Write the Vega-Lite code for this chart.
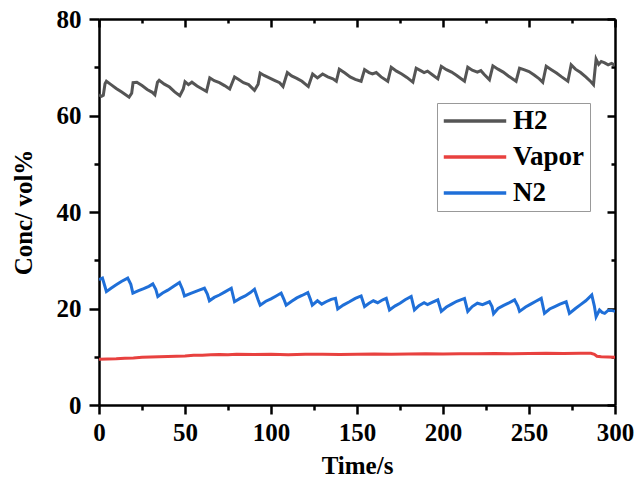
{
  "$schema": "https://vega.github.io/schema/vega-lite/v6.json",
  "width": 516,
  "height": 386,
  "autosize": {"type": "none"},
  "padding": {"left": 99, "top": 19, "right": 21, "bottom": 78},
  "background": "white",
  "config": {"view": {"stroke": null}, "font": "Liberation Serif"},
  "datasets": {
    "series": [
      {"s":"H2","t":0,"v":64.3},{"s":"H2","t":1.5,"v":64.0},{"s":"H2","t":2.5,"v":64.2},{"s":"H2","t":3.5,"v":66.6},{"s":"H2","t":4.3,"v":67.1},{"s":"H2","t":7,"v":66.4},{"s":"H2","t":10,"v":65.6},{"s":"H2","t":13,"v":64.9},{"s":"H2","t":15.5,"v":64.3},{"s":"H2","t":17.5,"v":63.8},{"s":"H2","t":19,"v":64.6},{"s":"H2","t":19.8,"v":66.8},{"s":"H2","t":22,"v":66.9},{"s":"H2","t":25,"v":66.2},{"s":"H2","t":28,"v":65.4},{"s":"H2","t":31,"v":64.8},{"s":"H2","t":32.5,"v":64.3},{"s":"H2","t":34,"v":66.9},{"s":"H2","t":35,"v":67.3},{"s":"H2","t":38,"v":66.5},{"s":"H2","t":41,"v":65.9},{"s":"H2","t":44,"v":64.9},{"s":"H2","t":47,"v":64.1},{"s":"H2","t":49,"v":65.5},{"s":"H2","t":50,"v":67.0},{"s":"H2","t":52,"v":66.4},{"s":"H2","t":54,"v":66.9},{"s":"H2","t":57,"v":66.1},{"s":"H2","t":60,"v":65.5},{"s":"H2","t":62.5,"v":65.0},{"s":"H2","t":64.4,"v":67.8},{"s":"H2","t":67,"v":67.2},{"s":"H2","t":70,"v":66.8},{"s":"H2","t":73,"v":66.2},{"s":"H2","t":76,"v":65.5},{"s":"H2","t":78.8,"v":68.0},{"s":"H2","t":81,"v":67.5},{"s":"H2","t":84,"v":66.8},{"s":"H2","t":87,"v":66.4},{"s":"H2","t":90.4,"v":65.2},{"s":"H2","t":92.5,"v":66.5},{"s":"H2","t":93.7,"v":68.8},{"s":"H2","t":96,"v":68.3},{"s":"H2","t":99,"v":67.8},{"s":"H2","t":102,"v":67.3},{"s":"H2","t":105,"v":66.8},{"s":"H2","t":107,"v":66.0},{"s":"H2","t":109.5,"v":68.9},{"s":"H2","t":112,"v":68.2},{"s":"H2","t":115,"v":67.7},{"s":"H2","t":118,"v":67.1},{"s":"H2","t":121.7,"v":66.0},{"s":"H2","t":124.2,"v":68.6},{"s":"H2","t":127,"v":67.8},{"s":"H2","t":130,"v":68.6},{"s":"H2","t":133,"v":68.0},{"s":"H2","t":136,"v":67.6},{"s":"H2","t":138,"v":67.1},{"s":"H2","t":139.7,"v":69.6},{"s":"H2","t":143,"v":68.8},{"s":"H2","t":146,"v":68.0},{"s":"H2","t":149,"v":67.5},{"s":"H2","t":152.4,"v":67.1},{"s":"H2","t":154.4,"v":69.5},{"s":"H2","t":157,"v":68.9},{"s":"H2","t":159,"v":68.6},{"s":"H2","t":161.2,"v":68.9},{"s":"H2","t":164,"v":68.0},{"s":"H2","t":167.9,"v":67.1},{"s":"H2","t":169.9,"v":70.0},{"s":"H2","t":173,"v":69.2},{"s":"H2","t":176,"v":68.6},{"s":"H2","t":179,"v":67.9},{"s":"H2","t":182.5,"v":66.9},{"s":"H2","t":184.4,"v":69.8},{"s":"H2","t":187,"v":69.3},{"s":"H2","t":189,"v":68.9},{"s":"H2","t":191,"v":69.2},{"s":"H2","t":194,"v":68.4},{"s":"H2","t":197,"v":67.6},{"s":"H2","t":199,"v":70.2},{"s":"H2","t":202,"v":69.5},{"s":"H2","t":205,"v":69.0},{"s":"H2","t":208,"v":68.3},{"s":"H2","t":212.5,"v":67.1},{"s":"H2","t":214.4,"v":70.0},{"s":"H2","t":217,"v":69.4},{"s":"H2","t":220,"v":69.0},{"s":"H2","t":222,"v":69.3},{"s":"H2","t":224,"v":68.5},{"s":"H2","t":227,"v":67.4},{"s":"H2","t":229,"v":70.3},{"s":"H2","t":232,"v":69.6},{"s":"H2","t":235,"v":69.0},{"s":"H2","t":238,"v":68.2},{"s":"H2","t":242.5,"v":67.1},{"s":"H2","t":244.5,"v":69.8},{"s":"H2","t":247,"v":69.5},{"s":"H2","t":250,"v":69.1},{"s":"H2","t":253,"v":68.4},{"s":"H2","t":256,"v":67.6},{"s":"H2","t":258,"v":66.9},{"s":"H2","t":260,"v":70.2},{"s":"H2","t":263,"v":69.5},{"s":"H2","t":266,"v":68.8},{"s":"H2","t":269,"v":68.0},{"s":"H2","t":272.6,"v":67.1},{"s":"H2","t":274.5,"v":70.5},{"s":"H2","t":277,"v":69.6},{"s":"H2","t":280,"v":68.9},{"s":"H2","t":283,"v":68.0},{"s":"H2","t":286,"v":67.0},{"s":"H2","t":287.5,"v":66.4},{"s":"H2","t":289,"v":71.7},{"s":"H2","t":290.5,"v":70.6},{"s":"H2","t":292,"v":71.2},{"s":"H2","t":294,"v":70.9},{"s":"H2","t":296,"v":70.5},{"s":"H2","t":298,"v":70.8},{"s":"H2","t":300,"v":70.4},
      {"s":"Vapor","t":0,"v":9.5},{"s":"Vapor","t":5,"v":9.55},{"s":"Vapor","t":10,"v":9.6},{"s":"Vapor","t":15,"v":9.7},{"s":"Vapor","t":20,"v":9.75},{"s":"Vapor","t":25,"v":9.9},{"s":"Vapor","t":30,"v":9.95},{"s":"Vapor","t":35,"v":10.0},{"s":"Vapor","t":40,"v":10.05},{"s":"Vapor","t":45,"v":10.1},{"s":"Vapor","t":50,"v":10.15},{"s":"Vapor","t":55,"v":10.3},{"s":"Vapor","t":60,"v":10.3},{"s":"Vapor","t":65,"v":10.4},{"s":"Vapor","t":70,"v":10.45},{"s":"Vapor","t":75,"v":10.4},{"s":"Vapor","t":80,"v":10.5},{"s":"Vapor","t":90,"v":10.45},{"s":"Vapor","t":100,"v":10.5},{"s":"Vapor","t":110,"v":10.4},{"s":"Vapor","t":120,"v":10.5},{"s":"Vapor","t":130,"v":10.5},{"s":"Vapor","t":140,"v":10.45},{"s":"Vapor","t":150,"v":10.5},{"s":"Vapor","t":160,"v":10.55},{"s":"Vapor","t":170,"v":10.5},{"s":"Vapor","t":180,"v":10.55},{"s":"Vapor","t":190,"v":10.6},{"s":"Vapor","t":200,"v":10.55},{"s":"Vapor","t":210,"v":10.6},{"s":"Vapor","t":220,"v":10.6},{"s":"Vapor","t":230,"v":10.65},{"s":"Vapor","t":240,"v":10.6},{"s":"Vapor","t":250,"v":10.65},{"s":"Vapor","t":260,"v":10.7},{"s":"Vapor","t":270,"v":10.65},{"s":"Vapor","t":280,"v":10.7},{"s":"Vapor","t":286,"v":10.7},{"s":"Vapor","t":288,"v":10.5},{"s":"Vapor","t":289.5,"v":10.1},{"s":"Vapor","t":292,"v":10.0},{"s":"Vapor","t":296,"v":9.95},{"s":"Vapor","t":300,"v":9.9},
      {"s":"N2","t":0,"v":26.0},{"s":"N2","t":2,"v":26.3},{"s":"N2","t":3.5,"v":24.5},{"s":"N2","t":4.3,"v":23.5},{"s":"N2","t":7,"v":24.2},{"s":"N2","t":10,"v":24.9},{"s":"N2","t":13,"v":25.6},{"s":"N2","t":16.7,"v":26.3},{"s":"N2","t":18.5,"v":25.0},{"s":"N2","t":19.7,"v":23.2},{"s":"N2","t":23,"v":23.7},{"s":"N2","t":26,"v":24.1},{"s":"N2","t":29,"v":24.6},{"s":"N2","t":31.3,"v":25.1},{"s":"N2","t":33,"v":24.0},{"s":"N2","t":34.2,"v":22.5},{"s":"N2","t":37,"v":23.2},{"s":"N2","t":40,"v":23.8},{"s":"N2","t":43,"v":24.5},{"s":"N2","t":46.8,"v":25.4},{"s":"N2","t":48.5,"v":24.0},{"s":"N2","t":49.7,"v":22.6},{"s":"N2","t":53,"v":23.1},{"s":"N2","t":56,"v":23.5},{"s":"N2","t":59,"v":23.9},{"s":"N2","t":61.3,"v":24.2},{"s":"N2","t":63,"v":23.0},{"s":"N2","t":64.2,"v":21.6},{"s":"N2","t":67,"v":22.3},{"s":"N2","t":70,"v":22.8},{"s":"N2","t":73,"v":23.4},{"s":"N2","t":76.9,"v":24.2},{"s":"N2","t":78.8,"v":21.4},{"s":"N2","t":82,"v":22.1},{"s":"N2","t":85,"v":22.6},{"s":"N2","t":88,"v":23.3},{"s":"N2","t":90.4,"v":24.0},{"s":"N2","t":92.5,"v":21.8},{"s":"N2","t":93.7,"v":20.7},{"s":"N2","t":97,"v":21.5},{"s":"N2","t":100,"v":22.0},{"s":"N2","t":103,"v":22.6},{"s":"N2","t":105.9,"v":23.2},{"s":"N2","t":107.5,"v":21.9},{"s":"N2","t":108.8,"v":20.7},{"s":"N2","t":112,"v":21.5},{"s":"N2","t":115,"v":22.2},{"s":"N2","t":118,"v":22.7},{"s":"N2","t":121.4,"v":23.3},{"s":"N2","t":122.8,"v":22.0},{"s":"N2","t":124,"v":20.7},{"s":"N2","t":127,"v":21.6},{"s":"N2","t":129.5,"v":20.9},{"s":"N2","t":132,"v":21.4},{"s":"N2","t":135,"v":21.9},{"s":"N2","t":137.5,"v":22.1},{"s":"N2","t":138.8,"v":19.9},{"s":"N2","t":142,"v":20.7},{"s":"N2","t":145.6,"v":21.4},{"s":"N2","t":149,"v":22.1},{"s":"N2","t":152.4,"v":22.6},{"s":"N2","t":153.5,"v":21.4},{"s":"N2","t":154.4,"v":20.4},{"s":"N2","t":157,"v":21.1},{"s":"N2","t":159.5,"v":21.6},{"s":"N2","t":162,"v":21.2},{"s":"N2","t":165,"v":21.8},{"s":"N2","t":167,"v":22.1},{"s":"N2","t":168.9,"v":19.7},{"s":"N2","t":172,"v":20.5},{"s":"N2","t":175,"v":21.1},{"s":"N2","t":178,"v":21.8},{"s":"N2","t":181.5,"v":22.5},{"s":"N2","t":183.4,"v":19.7},{"s":"N2","t":186,"v":20.6},{"s":"N2","t":189,"v":21.2},{"s":"N2","t":191,"v":20.8},{"s":"N2","t":194,"v":21.3},{"s":"N2","t":197,"v":21.8},{"s":"N2","t":199,"v":19.4},{"s":"N2","t":202,"v":20.3},{"s":"N2","t":205,"v":20.9},{"s":"N2","t":208,"v":21.5},{"s":"N2","t":212.5,"v":22.1},{"s":"N2","t":214.4,"v":19.4},{"s":"N2","t":217,"v":20.4},{"s":"N2","t":220,"v":21.1},{"s":"N2","t":223,"v":20.8},{"s":"N2","t":227,"v":21.4},{"s":"N2","t":228.5,"v":20.4},{"s":"N2","t":229.4,"v":18.9},{"s":"N2","t":232,"v":20.0},{"s":"N2","t":235,"v":20.6},{"s":"N2","t":238,"v":21.1},{"s":"N2","t":241.6,"v":21.8},{"s":"N2","t":243.5,"v":20.5},{"s":"N2","t":244.5,"v":19.4},{"s":"N2","t":248,"v":20.3},{"s":"N2","t":251,"v":20.9},{"s":"N2","t":254,"v":21.5},{"s":"N2","t":257.1,"v":22.1},{"s":"N2","t":259,"v":19.0},{"s":"N2","t":262,"v":19.9},{"s":"N2","t":265,"v":20.4},{"s":"N2","t":268,"v":20.9},{"s":"N2","t":271.6,"v":21.4},{"s":"N2","t":273.5,"v":19.0},{"s":"N2","t":277,"v":20.0},{"s":"N2","t":280,"v":20.8},{"s":"N2","t":283,"v":21.6},{"s":"N2","t":286.5,"v":22.8},{"s":"N2","t":288,"v":20.5},{"s":"N2","t":289,"v":18.3},{"s":"N2","t":291,"v":19.7},{"s":"N2","t":292.5,"v":19.2},{"s":"N2","t":294,"v":19.0},{"s":"N2","t":296,"v":19.6},{"s":"N2","t":298,"v":19.6},{"s":"N2","t":300,"v":19.4}
    ]
  },
  "data": {"name": "series"},
  "layer": [
    {
      "mark": {"type": "line", "strokeWidth": 3, "clip": true},
      "encoding": {
        "x": {
          "field": "t", "type": "quantitative",
          "scale": {"domain": [0, 300], "nice": false, "zero": false},
          "axis": {
            "orient": "bottom",
            "values": [0, 25, 50, 75, 100, 125, 150, 175, 200, 225, 250, 275, 300],
            "labelExpr": "datum.value % 50 === 0 ? datum.label : ''",
            "labelOverlap": false, "labelFlush": false,
            "grid": false,
            "domainColor": "black", "domainWidth": 2.5,
            "tickColor": "black", "tickWidth": 2.5,
            "tickSize": {"condition": {"test": "datum.value % 50 === 0", "value": 9}, "value": 5},
            "labelFont": "Liberation Serif", "labelFontSize": 25, "labelFontWeight": "bold", "labelColor": "black",
            "labelPadding": 6,
            "title": "Time/s",
            "titleFont": "Liberation Serif", "titleFontSize": 25, "titleFontWeight": "bold", "titleColor": "black",
            "titlePadding": 8
          }
        },
        "y": {
          "field": "v", "type": "quantitative",
          "scale": {"domain": [0, 80], "nice": false},
          "axis": {
            "orient": "left",
            "values": [0, 10, 20, 30, 40, 50, 60, 70, 80],
            "labelExpr": "datum.value % 20 === 0 ? datum.label : ''",
            "labelOverlap": false, "labelFlush": false,
            "grid": false,
            "domainColor": "black", "domainWidth": 2.5,
            "tickColor": "black", "tickWidth": 2.5,
            "tickSize": {"condition": {"test": "datum.value % 20 === 0", "value": 10}, "value": 5},
            "labelFont": "Liberation Serif", "labelFontSize": 25, "labelFontWeight": "bold", "labelColor": "black",
            "labelPadding": 8,
            "title": "Conc/ vol%",
            "titleFont": "Liberation Serif", "titleFontSize": 25, "titleFontWeight": "bold", "titleColor": "black",
            "titlePadding": 20
          }
        },
        "color": {
          "field": "s", "type": "nominal",
          "scale": {"domain": ["H2", "Vapor", "N2"], "range": ["#555555", "#e8413f", "#1f6fd8"]},
          "legend": {
            "orient": "none", "legendX": 338, "legendY": 84,
            "title": null,
            "symbolType": "stroke", "symbolSize": 3900, "symbolStrokeWidth": 3.5,
            "clipHeight": 26, "rowPadding": 9, "padding": 5,
            "strokeColor": "#999999", "fillColor": "white",
            "labelFont": "Liberation Serif", "labelFontSize": 27, "labelFontWeight": "bold", "labelColor": "black",
            "labelOffset": 5
          }
        }
      }
    },
    {
      "mark": {"type": "point", "opacity": 0},
      "encoding": {
        "x": {
          "field": "t", "type": "quantitative",
          "axis": {
            "orient": "top",
            "values": [0, 25, 50, 75, 100, 125, 150, 175, 200, 225, 250, 275, 300],
            "labels": false, "grid": false, "title": null,
            "domainColor": "black", "domainWidth": 2.5,
            "tickColor": "black", "tickWidth": 2.5,
            "tickSize": {"condition": {"test": "datum.value % 50 === 0", "value": -8}, "value": -4}
          }
        },
        "y": {
          "field": "v", "type": "quantitative",
          "axis": {
            "orient": "right",
            "values": [0, 10, 20, 30, 40, 50, 60, 70, 80],
            "labels": false, "grid": false, "title": null,
            "domainColor": "black", "domainWidth": 2.5,
            "tickColor": "black", "tickWidth": 2.5,
            "tickSize": {"condition": {"test": "datum.value % 20 === 0", "value": -8}, "value": -4}
          }
        }
      }
    }
  ],
  "resolve": {"axis": {"x": "independent", "y": "independent"}}
}
